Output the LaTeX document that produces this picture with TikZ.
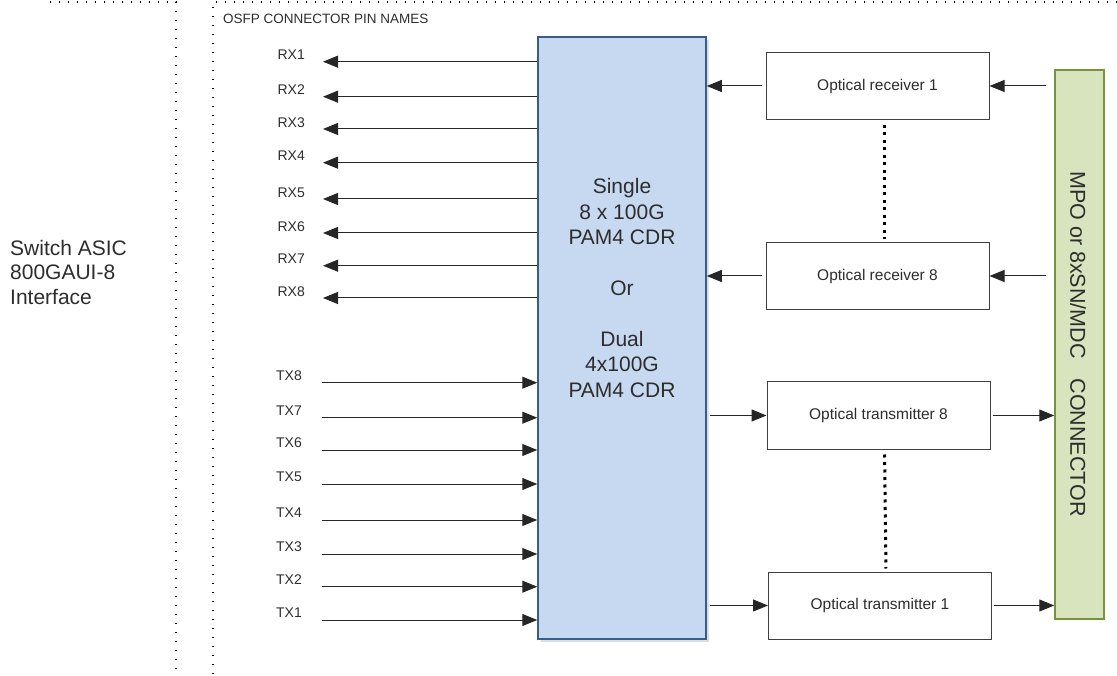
\documentclass[tikz,border=0pt]{standalone}
\usepackage{fontspec}
\setmainfont{Liberation Sans}
\usetikzlibrary{arrows.meta,shadows}

\definecolor{cdrfill}{RGB}{198,217,240}
\definecolor{cdrline}{RGB}{56,93,138}
\definecolor{mpofill}{RGB}{215,228,189}
\definecolor{mpoline}{RGB}{119,147,60}
\definecolor{txtgray}{RGB}{45,45,45}

\tikzset{
  sig/.style={-{Triangle[length=15pt,width=12pt]}, line width=1pt, black!85},
  optbox/.style={draw=black!75, line width=1pt, fill=white, minimum width=223pt, minimum height=67pt, font=\fontsize{15.5}{18}\selectfont, text=txtgray},
  pin/.style={anchor=east, inner sep=0pt, font=\fontsize{14}{16}\selectfont, text=txtgray},
  framedots/.style={line width=1.4pt, dash pattern=on 1.4pt off 7.6pt},
  skipdots/.style={line width=3pt, dash pattern=on 3pt off 4.5pt, shorten <=5pt, shorten >=3pt},
}

\begin{document}
\begin{tikzpicture}[x=1pt, y=-1pt]
      \useasboundingbox (0,0) rectangle (1117,676);

      % dotted frames
      \draw[framedots] (50,2) -- (176,2) -- (176,676);
      \draw[framedots] (1117,2) -- (213,2) -- (213,676);

      \node[anchor=west, inner sep=0pt, align=left, font=\fontsize{21}{24.5}\selectfont, text=txtgray] (asic) at (10,272) {Switch ASIC\\800GAUI-8\\Interface};
      \node[anchor=west, inner sep=0pt, font=\fontsize{13.5}{15}\selectfont, text=txtgray] (pinhdr) at (223,18.5) {OSFP CONNECTOR PIN NAMES};

      % CDR block
      \node[draw=cdrline, fill=cdrfill, line width=1.5pt, minimum width=168pt, minimum height=602pt, drop shadow={opacity=0.25}] (cdr) at (622,338) {};
      \node[align=center, font=\fontsize{21}{25.4}\selectfont, text=txtgray] (cdrtext) at (622,288) {Single\\8 x 100G\\PAM4 CDR\\[25.4pt]Or\\[25.4pt]Dual\\4x100G\\PAM4 CDR};

      % MPO connector
      \node[draw=mpoline, fill=mpofill, line width=1.5pt, minimum width=49pt, minimum height=549pt] (mpo) at (1079.5,344.5) {};
      \node[rotate=-90, font=\fontsize{21.5}{24}\selectfont, text=txtgray] (mpotext) at (1078,344) {MPO or 8xSN/MDC\hspace{20pt}CONNECTOR};

      % pins
      \foreach \i/\y in {1/61.7,2/96.7,3/129,4/162.7,5/199,6/233,7/265.7,8/298} {
        \coordinate (rxend\i) at (323,\y);
        \node[pin] (rxlbl\i) at (305,\y-6.7) {RX\i};
        \draw[sig] (cdr.west |- rxend\i) -- (rxend\i);
      }
      \foreach \i/\y in {8/382.7,7/417.7,6/450,5/484,4/520,3/554,2/586.7,1/620} {
        \coordinate (txbeg\i) at (322,\y);
        \node[pin] (txlbl\i) at (302,\y-7.5) {TX\i};
        \draw[sig] (txbeg\i) -- (cdr.west |- txbeg\i);
      }

      % optics
      \node[optbox] (rx1) at (877.5,86) {Optical receiver 1};
      \node[optbox] (rx8) at (877.5,276) {Optical receiver 8};
      \node[optbox] (tx8) at (878.5,415.5) {Optical transmitter 8};
      \node[optbox] (tx1) at (880,605.5) {Optical transmitter 1};

      \draw[skipdots] ([xshift=7pt]rx1.south) -- ([xshift=7pt]rx8.north);
      \draw[skipdots] ([xshift=6pt]tx8.south) -- ([xshift=6pt]tx1.north);

      \foreach \b in {rx1,rx8} {
        \draw[sig, shorten <=4pt] (\b.west) -- (\b.west -| cdr.east);
        \draw[sig, shorten <=8pt] (\b.east -| mpo.west) -- (\b.east);
      }
      \foreach \b in {tx8,tx1} {
        \draw[sig, shorten <=3pt] (\b.west -| cdr.east) -- (\b.west);
        \draw[sig, shorten <=2pt] (\b.east) -- (\b.east -| mpo.west);
      }
    \end{tikzpicture}
\end{document}
